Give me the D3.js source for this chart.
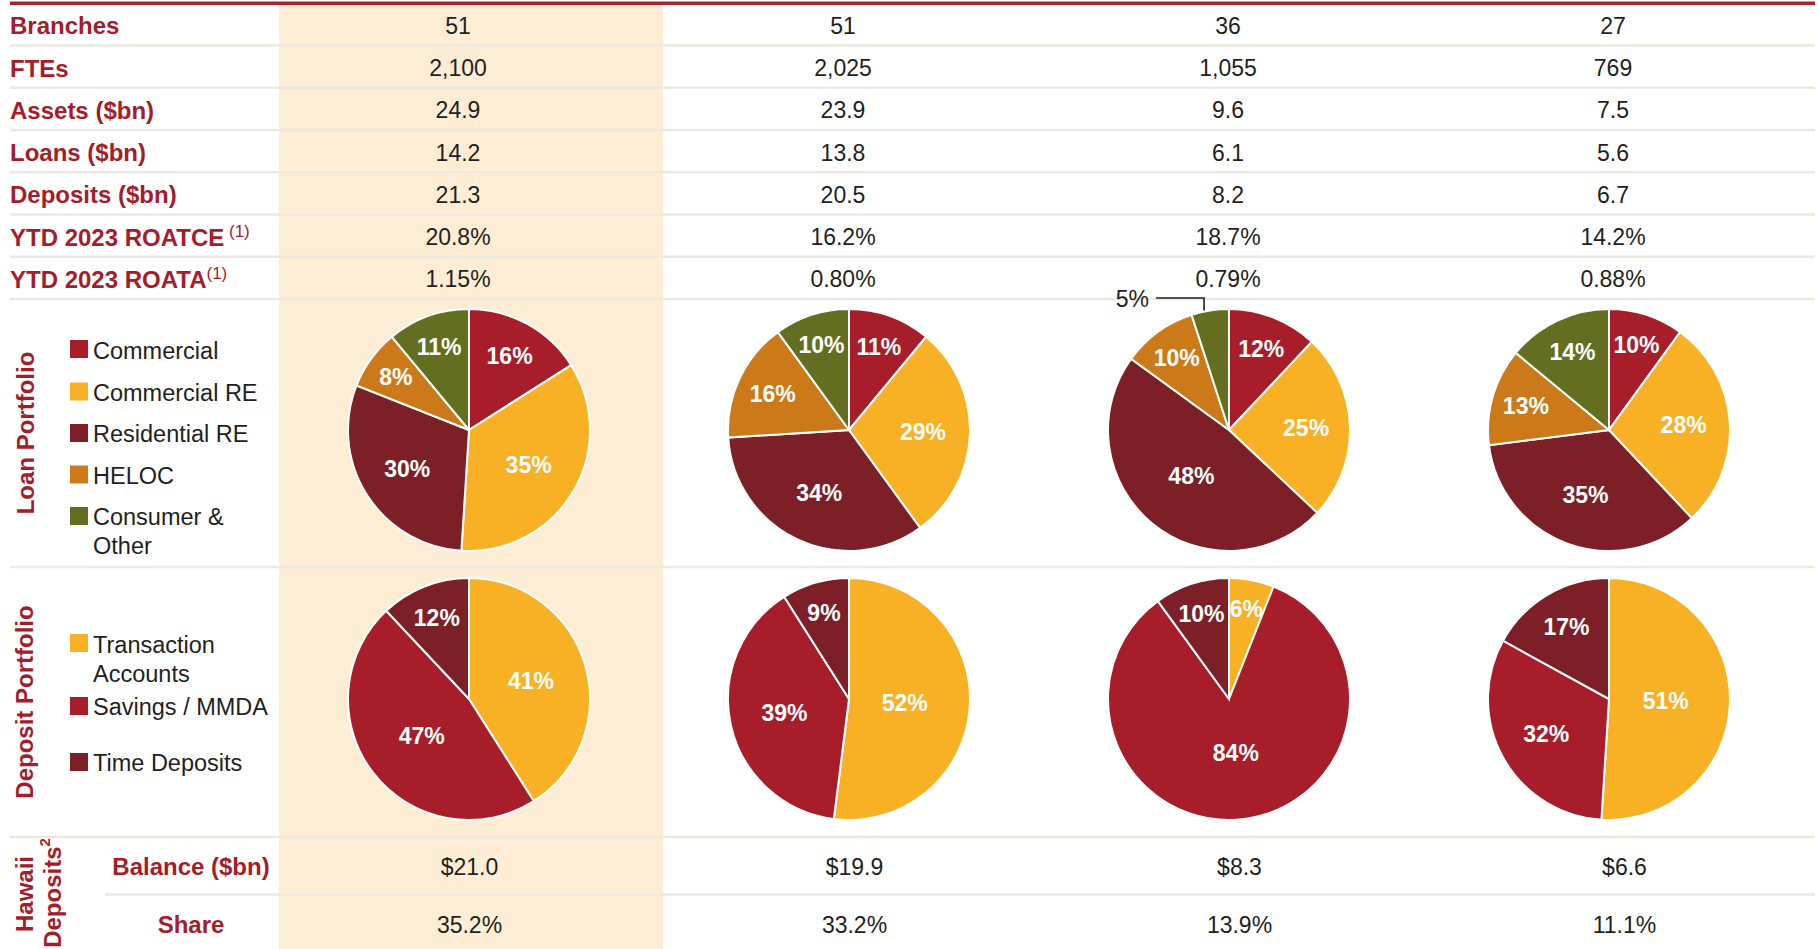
<!DOCTYPE html>
<html>
<head>
<meta charset="utf-8">
<script src="https://cdn.jsdelivr.net/npm/d3@7"></script>
<style>
  html, body { margin: 0; padding: 0; background: #ffffff; }
  svg { display: block; font-family: "Liberation Sans", Arial, sans-serif; }
</style>
</head>
<body>
<svg id="chart" width="1818" height="949"></svg>
<script>
// ---------------- DATA ----------------
const columns = ["Col1", "Col2", "Col3", "Col4"];
const statLabels = ["Branches", "FTEs", "Assets ($bn)", "Loans ($bn)", "Deposits ($bn)", "YTD 2023 ROATCE", "YTD 2023 ROATA"];
const statFootnotes = ["", "", "", "", "", " (1)", "(1)"];
const branches = [51, 51, 36, 27];
const ftes = [2100, 2025, 1055, 769];
const assets = [24.9, 23.9, 9.6, 7.5];
const loans = [14.2, 13.8, 6.1, 5.6];
const deposits = [21.3, 20.5, 8.2, 6.7];
const roatce = [20.8, 16.2, 18.7, 14.2];
const roata = [1.15, 0.80, 0.79, 0.88];

const loanCategories = ["Commercial", "Commercial RE", "Residential RE", "HELOC", "Consumer & Other"];
const loanMix = [
  [16, 35, 30, 8, 11],
  [11, 29, 34, 16, 10],
  [12, 25, 48, 10, 5],
  [10, 28, 35, 13, 14]
];
const depositCategories = ["Transaction Accounts", "Savings / MMDA", "Time Deposits"];
const depositMix = [
  [41, 47, 12],
  [52, 39, 9],
  [6, 84, 10],
  [51, 32, 17]
];
const hawaiiLabels = ["Balance ($bn)", "Share"];
const hawaiiBalance = [21.0, 19.9, 8.3, 6.6];
const hawaiiShare = [35.2, 33.2, 13.9, 11.1];

// ---------------- STYLE ----------------
const RED = "#A81D2A", YELLOW = "#F8B125", MAROON = "#7D1F26", ORANGE = "#CC7A19", GREEN = "#636E21";
const LABEL_RED = "#A51C2A";
const TEXT = "#231F20";
const RULE = "#ECE9E1";
const BEIGE = "#FDEDD4";
const loanColors = d3.scaleOrdinal().domain(loanCategories).range([RED, YELLOW, MAROON, ORANGE, GREEN]);
const depositColors = d3.scaleOrdinal().domain(depositCategories).range([YELLOW, RED, MAROON]);

const W = 1818, H = 949;
const svg = d3.select("#chart");

// ---------------- LAYOUT SCALES ----------------
const x = d3.scaleBand().domain(columns).range([279, 1799]);          // pie columns
const xStat = d3.scaleBand().domain(columns).range([265.5, 1805.5]);  // stat table text columns
const xHawaii = d3.scaleBand().domain(columns).range([277, 1817]);    // Hawaii rows text columns
const cx = c => x(c) + x.bandwidth() / 2;
const cxStat = c => xStat(c) + xStat.bandwidth() / 2;
const cxHawaii = c => xHawaii(c) + xHawaii.bandwidth() / 2;
const tableTop = 3.3, tableBottom = 299;
const y = d3.scaleBand().domain(statLabels).range([tableTop, tableBottom]);
const sections = { loan: [299, 567], deposit: [567, 837] };
const hawaiiY = d3.scaleBand().domain(hawaiiLabels).range([837, 952]);
const leftEdge = 10, rightEdge = 1815;
const R = 121;

// beige highlight column
svg.append("rect")
  .attr("x", x(columns[0])).attr("y", tableTop + 1.5)
  .attr("width", x.bandwidth() + 4).attr("height", H - tableTop)
  .attr("fill", BEIGE);

// rules
const ruleYs = statLabels.map(l => y(l) + y.bandwidth()).concat([sections.loan[1], sections.deposit[1]]);
svg.selectAll("line.rule").data(ruleYs).enter().append("line")
  .attr("class", "rule")
  .attr("x1", leftEdge).attr("x2", rightEdge)
  .attr("y1", d => d).attr("y2", d => d)
  .attr("stroke", RULE).attr("stroke-width", 2.5);
svg.append("line")
  .attr("x1", 105).attr("x2", rightEdge)
  .attr("y1", hawaiiY(hawaiiLabels[1])).attr("y2", hawaiiY(hawaiiLabels[1]))
  .attr("stroke", RULE).attr("stroke-width", 2.5);
// top red rule
svg.append("line")
  .attr("x1", leftEdge).attr("x2", rightEdge)
  .attr("y1", tableTop).attr("y2", tableTop)
  .attr("stroke", "#B01F2E").attr("stroke-width", 3.5);

// ---------------- STATS TABLE ----------------
const fmt1 = d3.format(".1f"), fmt2 = d3.format(".2f"), fmtInt = d3.format(",");
const statValues = [
  branches.map(v => fmtInt(v)),
  ftes.map(v => fmtInt(v)),
  assets.map(fmt1),
  loans.map(fmt1),
  deposits.map(fmt1),
  roatce.map(v => fmt1(v) + "%"),
  roata.map(v => fmt2(v) + "%")
];

statLabels.forEach((lab, i) => {
  const yc = y(lab) + y.bandwidth() / 2 + 1.5;
  const t = svg.append("text")
    .attr("x", leftEdge).attr("y", yc).attr("dy", "0.35em")
    .attr("font-size", 24).attr("font-weight", "bold").attr("fill", LABEL_RED)
    .text(lab);
  if (statFootnotes[i]) {
    t.append("tspan").attr("font-size", 17).attr("font-weight", "normal")
      .attr("dy", "-0.5em").text(statFootnotes[i]);
  }
  columns.forEach((c, j) => {
    svg.append("text")
      .attr("x", cxStat(c)).attr("y", yc).attr("dy", "0.35em")
      .attr("text-anchor", "middle")
      .attr("font-size", 23).attr("fill", TEXT)
      .text(statValues[i][j]);
  });
});

// ---------------- SECTION TITLES ----------------
function vtext(xp, yp, str, size) {
  return svg.append("text")
    .attr("transform", `translate(${xp},${yp}) rotate(-90)`)
    .attr("text-anchor", "middle")
    .attr("font-size", size || 24).attr("font-weight", "bold").attr("fill", LABEL_RED)
    .text(str);
}
vtext(34, (sections.loan[0] + sections.loan[1]) / 2, "Loan Portfolio");
vtext(33, (sections.deposit[0] + sections.deposit[1]) / 2, "Deposit Portfolio");
vtext(33, 894, "Hawaii");
const dep = vtext(61, 893, "Deposits");
dep.append("tspan").attr("font-size", 15).attr("dy", "-0.75em").text("2");

// ---------------- LEGENDS ----------------
function legend(items, colors, startY, gaps) {
  let yy = startY;
  items.forEach((it, i) => {
    const lines = it.lines;
    svg.append("rect").attr("x", 70).attr("y", yy - 9 - (i === 0 ? 2 : 1)).attr("width", 18).attr("height", 18)
      .attr("fill", colors(it.key));
    lines.forEach((ln, k) => {
      svg.append("text").attr("x", 93).attr("y", yy + k * 29).attr("dy", "0.35em")
        .attr("font-size", 23.5).attr("fill", TEXT).text(ln);
    });
    yy += gaps[i] || 0;
  });
}
legend([
  { key: loanCategories[0], lines: ["Commercial"] },
  { key: loanCategories[1], lines: ["Commercial RE"] },
  { key: loanCategories[2], lines: ["Residential RE"] },
  { key: loanCategories[3], lines: ["HELOC"] },
  { key: loanCategories[4], lines: ["Consumer &", "Other"] }
], loanColors, 351, [41.5, 41.5, 41.5, 41.5]);
legend([
  { key: depositCategories[0], lines: ["Transaction", "Accounts"] },
  { key: depositCategories[1], lines: ["Savings / MMDA"] },
  { key: depositCategories[2], lines: ["Time Deposits"] }
], depositColors, 645, [62, 56]);

// ---------------- PIES ----------------
const pie = d3.pie().sort(null).value(d => d.v);
const arc = d3.arc().innerRadius(0).outerRadius(R);
function labelArc(d) {
  const f = (d.endAngle - d.startAngle) / (2 * Math.PI);
  const lr = R * Math.max(0.45, 0.80 - 0.65 * f);
  return d3.arc().innerRadius(lr).outerRadius(lr).centroid(d);
}

function drawPies(mix, cats, colors, section) {
  const cy = (section[0] + section[1]) / 2 - 3;
  columns.forEach((c, j) => {
    const data = cats.map((k, i) => ({ k, v: mix[j][i] }));
    const g = svg.append("g").attr("transform", `translate(${cx(c)},${cy})`);
    const arcs = pie(data);
    g.selectAll("path").data(arcs).enter().append("path")
      .attr("d", arc).attr("fill", d => colors(d.data.k))
      .attr("stroke", "#ffffff").attr("stroke-width", 2);
    arcs.forEach(d => {
      const label = d.data.v + "%";
      if (d.data.v <= 5) {
        // outside label with elbow leader
        const mid = (d.startAngle + d.endAngle) / 2;
        const px = Math.sin(mid) * R - 6, py = -Math.cos(mid) * R;
        const elbowY = -R - 11;
        g.append("path")
          .attr("d", `M${px},${py}V${elbowY}H${px - 48}`)
          .attr("fill", "none").attr("stroke", TEXT).attr("stroke-width", 1.6);
        g.append("text").attr("x", px - 55).attr("y", elbowY + 1).attr("dy", "0.35em")
          .attr("text-anchor", "end").attr("font-size", 23).attr("fill", TEXT).text(label);
      } else {
        const [lx, ly] = labelArc(d);
        g.append("text").attr("x", lx).attr("y", ly).attr("dy", "0.35em")
          .attr("text-anchor", "middle").attr("font-size", 23).attr("font-weight", "bold")
          .attr("fill", "#ffffff").text(label);
      }
    });
  });
}
drawPies(loanMix, loanCategories, loanColors, sections.loan);
drawPies(depositMix, depositCategories, depositColors, sections.deposit);

// ---------------- HAWAII DEPOSITS ----------------
const hawaiiVals = [hawaiiBalance.map(v => "$" + fmt1(v)), hawaiiShare.map(v => fmt1(v) + "%")];
const hawaiiCenters = [867, 925];
hawaiiLabels.forEach((lab, i) => {
  const yc = hawaiiCenters[i];
  svg.append("text").attr("x", 191).attr("y", yc).attr("dy", "0.35em")
    .attr("text-anchor", "middle").attr("font-size", 24).attr("font-weight", "bold")
    .attr("fill", LABEL_RED).text(lab);
  columns.forEach((c, j) => {
    svg.append("text").attr("x", cxHawaii(c)).attr("y", yc).attr("dy", "0.35em")
      .attr("text-anchor", "middle").attr("font-size", 23).attr("fill", TEXT)
      .text(hawaiiVals[i][j]);
  });
});
</script>
</body>
</html>
